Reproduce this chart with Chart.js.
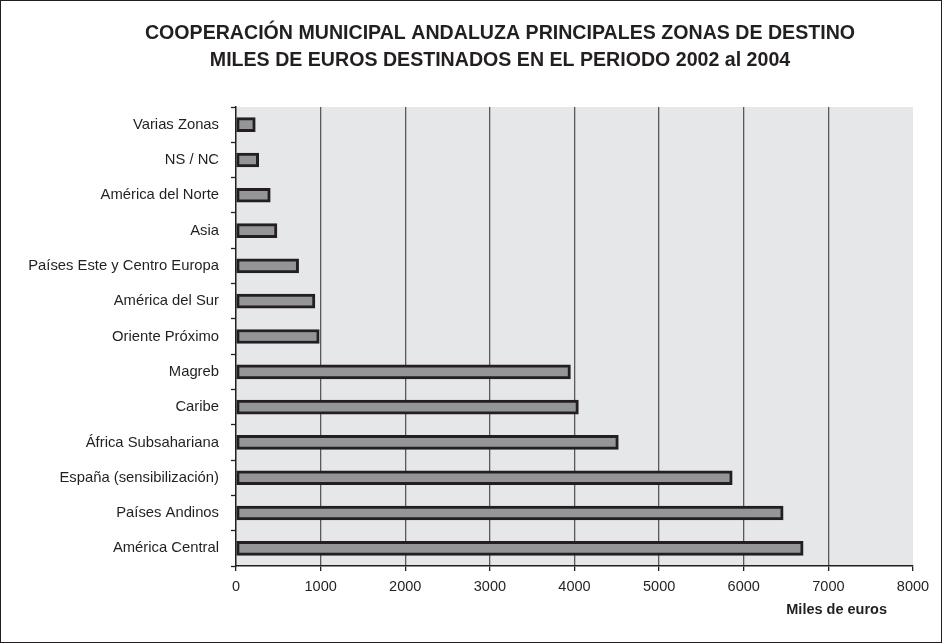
<!DOCTYPE html>
<html>
<head>
<meta charset="utf-8">
<script src="https://cdn.jsdelivr.net/npm/chart.js@4/dist/chart.umd.min.js"></script>
<style>
  html, body { margin: 0; padding: 0; background: #ffffff; }
  #frame { width: 942px; height: 643px; box-sizing: border-box; border: 1px solid #231f20; background: #ffffff; }
  #c { display: block; }
</style>
</head>
<body>
<div id="frame"><canvas id="c" width="940" height="641"></canvas></div>
<script>
const titleLines = [
  'COOPERACIÓN MUNICIPAL ANDALUZA PRINCIPALES ZONAS DE DESTINO',
  'MILES DE EUROS DESTINADOS EN EL PERIODO 2002 al 2004'
];
const categories = [
  'Varias Zonas',
  'NS / NC',
  'América del Norte',
  'Asia',
  'Países Este y Centro Europa',
  'América del Sur',
  'Oriente Próximo',
  'Magreb',
  'Caribe',
  'África Subsahariana',
  'España (sensibilización)',
  'Países Andinos',
  'América Central'
];
const values = [228, 268, 405, 484, 740, 933, 984, 3952, 4046, 4518, 5864, 6466, 6702];
const xAxisTitle = 'Miles de euros';
const xMin = 0, xMax = 8000, xStep = 1000;

const INK = '#231f20';
const FONT = "'Liberation Sans', Arial, Helvetica, sans-serif";

const plotBg = {
  id: 'plotBg',
  beforeDraw(chart) {
    const { ctx, chartArea: a } = chart;
    ctx.save();
    ctx.fillStyle = '#ffffff';
    ctx.fillRect(0, 0, chart.width, chart.height);
    ctx.fillStyle = '#e6e7e8';
    ctx.fillRect(a.left, a.top, a.right - a.left, a.bottom - a.top);
    ctx.restore();
  }
};

const texts = {
  id: 'texts',
  afterDraw(chart) {
    const { ctx, chartArea: a } = chart;
    ctx.save();
    ctx.fillStyle = INK;
    ctx.textBaseline = 'middle';
    // chart title, two lines
    ctx.font = "bold 19.6px " + FONT;
    ctx.textAlign = 'center';
    titleLines.forEach((t, i) => ctx.fillText(t, 499, 33 + i * 26.5));
    // x axis title
    ctx.font = "bold 14.5px " + FONT;
    ctx.textAlign = 'right';
    ctx.fillText(xAxisTitle, a.right - 26, a.bottom + 44);
    ctx.restore();
  }
};

new Chart(document.getElementById('c'), {
  type: 'bar',
  data: {
    labels: categories,
    datasets: [{
      data: values,
      backgroundColor: '#939598',
      borderColor: INK,
      borderWidth: 3,
      borderSkipped: false,
      barThickness: 14
    }]
  },
  options: {
    indexAxis: 'y',
    responsive: false,
    animation: false,
    layout: { padding: { left: 0, right: 28, top: 106, bottom: 0 } },
    plugins: {
      legend: { display: false },
      tooltip: { enabled: false },
      title: { display: false }
    },
    scales: {
      x: {
        type: 'linear',
        min: xMin,
        max: xMax,
        afterFit(scale) { scale.height = 76; },
        ticks: {
          stepSize: xStep,
          color: INK,
          font: { family: FONT, size: 14.5 },
          padding: 7,
          maxRotation: 0,
          callback: (v) => String(v)
        },
        grid: {
          color(ctx) {
            const v = ctx.tick ? ctx.tick.value : null;
            return (v === xMin || v === xMax) ? 'rgba(0,0,0,0)' : '#58595b';
          },
          lineWidth: 1.3,
          tickLength: 5,
          tickColor: INK,
          tickWidth: 1.3
        },
        border: { color: INK, width: 1.5 }
      },
      y: {
        afterFit(scale) { scale.width = 235; },
        ticks: {
          color: INK,
          font: { family: FONT, size: 14.8 },
          padding: 12
        },
        grid: {
          display: true,
          offset: true,
          drawOnChartArea: false,
          tickLength: 5,
          tickColor: INK,
          tickWidth: 1.3
        },
        border: { color: INK, width: 1.5 }
      }
    }
  },
  plugins: [plotBg, texts]
});
</script>
</body>
</html>
